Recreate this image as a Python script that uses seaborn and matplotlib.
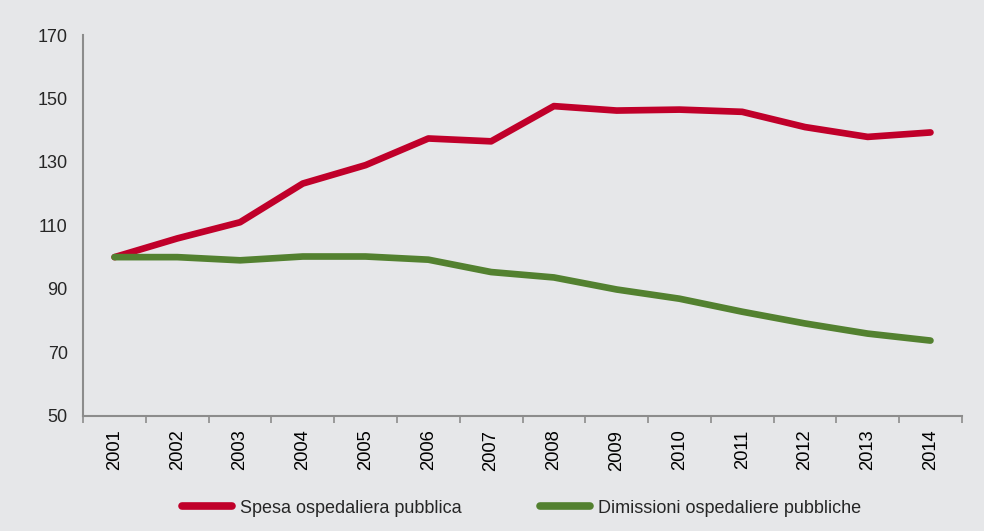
import numpy as np
import pandas as pd
import matplotlib
matplotlib.use("Agg")
import matplotlib.pyplot as plt
import seaborn as sns
from matplotlib.ticker import FixedLocator

# Data (index 2001 = 100)
years = ["2001", "2002", "2003", "2004", "2005", "2006", "2007",
         "2008", "2009", "2010", "2011", "2012", "2013", "2014"]
spesa = [100.0, 105.9, 111.0, 123.2, 129.0, 137.4, 136.5,
         147.6, 146.2, 146.5, 145.8, 141.0, 137.9, 139.3]
dimissioni = [100.0, 100.0, 99.0, 100.2, 100.2, 99.2, 95.3,
              93.6, 89.8, 86.9, 82.8, 79.1, 75.9, 73.7]
series_names = ["Spesa ospedaliera pubblica", "Dimissioni ospedaliere pubbliche"]
y_ticks = [50, 70, 90, 110, 130, 150, 170]

bg = "#e6e7e9"
colors = ["#c0002a", "#538130"]
axis_col = "#8c8c8c"

df = pd.DataFrame({
    "anno": years * 2,
    "valore": spesa + dimissioni,
    "serie": [series_names[0]] * len(years) + [series_names[1]] * len(years),
})

sns.set_theme(style="white")
plt.rcParams["font.family"] = ["Liberation Sans", "DejaVu Sans"]

fig = plt.figure(figsize=(9.84, 5.31), dpi=100, facecolor=bg)
ax = fig.add_axes([0.0845, 0.217, 0.893, 0.717])
ax.set_facecolor(bg)

sns.lineplot(data=df, x="anno", y="valore", hue="serie", palette=colors,
             linewidth=4.8, sort=False, ax=ax, legend=True)
for ln in ax.lines:
    ln.set_solid_capstyle("round")

ax.set_xlim(-0.5, len(years) - 0.5)
ax.set_ylim(50, 170)
ax.set_yticks(y_ticks)
ax.set_xticks(range(len(years)))
ax.set_xticklabels(years, rotation=90)
ax.xaxis.set_minor_locator(FixedLocator(np.arange(-0.5, len(years), 1.0)))
ax.tick_params(axis="x", which="major", length=0, pad=10, labelsize=13.2, colors="black")
ax.tick_params(axis="x", which="minor", length=5, width=1.2, color=axis_col, direction="out")
ax.tick_params(axis="y", length=5, width=1.2, color=axis_col, direction="out",
               labelsize=13, pad=6)
ax.xaxis.set_tick_params(which="minor", bottom=True)

ax.set_xlabel("")
ax.set_ylabel("")
sns.despine(ax=ax)
for side in ["left", "bottom"]:
    ax.spines[side].set_color(axis_col)
    ax.spines[side].set_linewidth(1.5)

handles, labels = ax.get_legend_handles_labels()
ax.legend(handles, labels, loc="center", bbox_to_anchor=(0.53, 0.043),
          bbox_transform=fig.transFigure, ncol=2, frameon=False,
          fontsize=13, handlelength=2.8, handletextpad=0.45, columnspacing=4.3)
for h in ax.get_legend().get_lines():
    h.set_linewidth(5.5)
    h.set_solid_capstyle("round")

fig.savefig("out.png", dpi=100, facecolor=bg)
